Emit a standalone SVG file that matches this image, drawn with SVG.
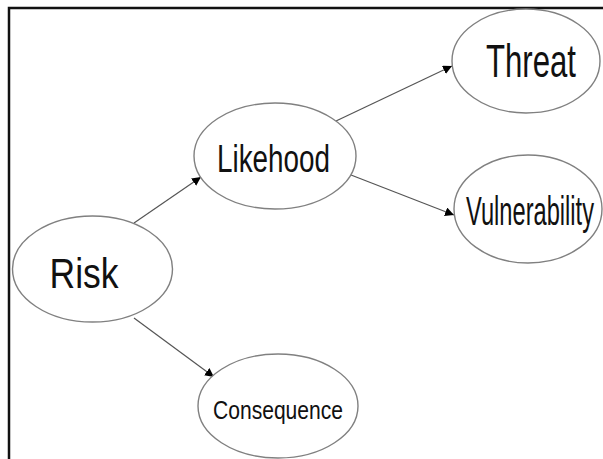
<svg xmlns="http://www.w3.org/2000/svg" width="603" height="459" viewBox="0 0 603 459">
<style>
.node ellipse{fill:#fff;stroke:#808080;stroke-width:1.4}
.node text{font-family:"Liberation Sans",Arial,sans-serif;fill:#111;text-anchor:middle}
.edges line{stroke:#555;stroke-width:1.2;marker-end:url(#ah)}
</style>
<defs>
<marker id="ah" viewBox="0 0 10 10" refX="10" refY="5" markerWidth="9" markerHeight="9" markerUnits="userSpaceOnUse" orient="auto">
<path d="M0,0 L10,5 L0,10 Z" fill="#000"/>
</marker>
</defs>
<rect width="603" height="459" fill="#fff"/>
<path d="M9,459 V8 H603" fill="none" stroke="#111" stroke-width="2.5"/>
<g class="edges">
<line x1="134" y1="223" x2="201" y2="177"/>
<line x1="134" y1="318" x2="214" y2="377"/>
<line x1="336" y1="121" x2="452" y2="66"/>
<line x1="351" y1="175" x2="454" y2="215"/>
</g>
<g id="risk" class="node">
<ellipse cx="92.5" cy="269" rx="80" ry="53"/>
<text x="84" y="288" font-size="42" textLength="69" lengthAdjust="spacingAndGlyphs">Risk</text>
</g>
<g id="likehood" class="node">
<ellipse cx="275" cy="156" rx="81" ry="53"/>
<text x="273.5" y="172" font-size="39" textLength="113" lengthAdjust="spacingAndGlyphs">Likehood</text>
</g>
<g id="threat" class="node">
<ellipse cx="526" cy="61" rx="74" ry="52"/>
<text x="531" y="77" font-size="46" textLength="90" lengthAdjust="spacingAndGlyphs">Threat</text>
</g>
<g id="vulnerability" class="node">
<ellipse cx="528" cy="209" rx="74" ry="54"/>
<text x="530" y="225" font-size="41" textLength="128" lengthAdjust="spacingAndGlyphs">Vulnerability</text>
</g>
<g id="consequence" class="node">
<ellipse cx="278" cy="406" rx="80" ry="52"/>
<text x="278" y="419" font-size="25" textLength="130" lengthAdjust="spacingAndGlyphs">Consequence</text>
</g>
</svg>
